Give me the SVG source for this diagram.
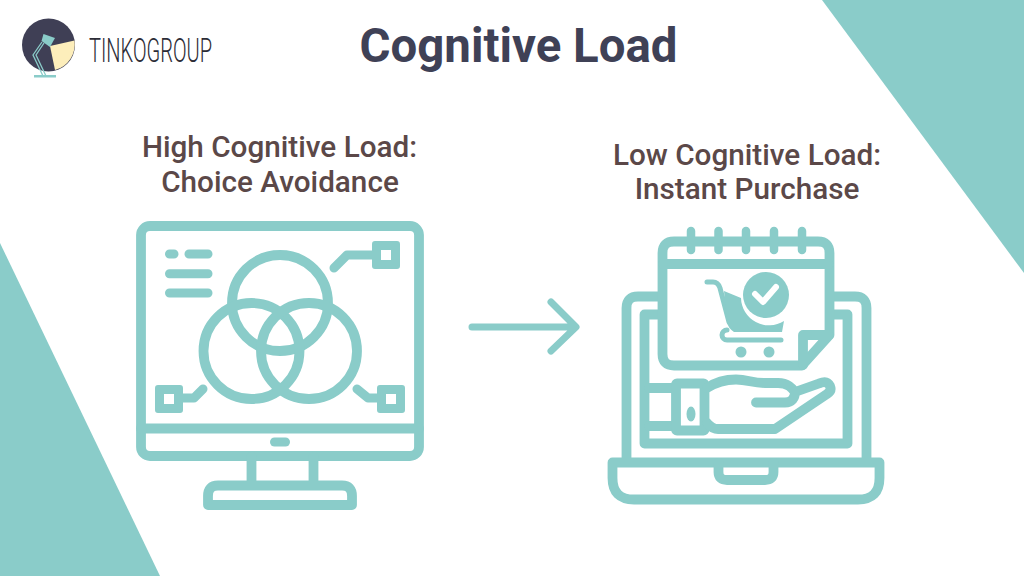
<svg xmlns="http://www.w3.org/2000/svg" width="1024" height="576" viewBox="0 0 1024 576">
<style>
.t{fill:#8accc9}
.s{fill:none;stroke:#8accc9;stroke-width:9.800;stroke-linecap:round;stroke-linejoin:round}
.w{fill:#fff}
.h{font-family:Roboto,"Liberation Sans",sans-serif;font-weight:500;font-size:29.700px;fill:#5b4848;text-anchor:middle}
</style>
<rect width="1024" height="576" fill="#fff"/>
<polygon class="t" points="822,0 1024,0 1024,273"/>
<polygon class="t" points="0,243 160,576 0,576"/>
<g id="logo">
<circle cx="48.500" cy="45" r="26.500" fill="#3f3f55"/>
<path d="M50,46 L74.500,40.500 A26.500,26.500 0 0 1 55,70 Z" fill="#fdeebb"/>
<polygon points="43.500,34 55,38 50,47 41.500,41" fill="#8accc9"/>
<path d="M42,42 L33,55 L43,76 M44,43 L36,55 L46,76" fill="none" stroke="#8accc9" stroke-width="1.300"/>
<rect x="34" y="75" width="22" height="2.500" fill="#8accc9"/>
<text x="89" y="62" font-family="Roboto,'Liberation Sans',sans-serif" font-weight="300" font-size="34" fill="#2c2c36" textLength="123" lengthAdjust="spacingAndGlyphs">TINKOGROUP</text>
</g>
<text id="title" x="518.500" y="62" font-family="Roboto,'Liberation Sans',sans-serif" font-weight="700" font-size="47.400" fill="#3f4156" text-anchor="middle">Cognitive Load</text>
<g id="high-label">
<text class="h" x="279.500" y="157">High Cognitive Load:</text>
<text class="h" x="280" y="192">Choice Avoidance</text>
</g>
<g id="low-label">
<text class="h" x="747" y="165">Low Cognitive Load:</text>
<text class="h" x="747" y="199">Instant Purchase</text>
</g>
<g id="monitor">
<rect class="s" x="141" y="226" width="278" height="230" rx="9"/>
<path class="s" d="M141,428.500H419M251.500,457V481M313.500,457V481"/>
<path class="s" d="M208,505V496Q208,485.500 218,485.500H342Q352,485.500 352,496V505Z"/>
<rect class="t" x="270" y="437.500" width="20" height="9" rx="4.500"/>
<path class="s" style="stroke-width:9" d="M169.500,254H174M189,254H208M169.500,273.700H208M169.500,293H208"/>
<circle class="s" cx="280" cy="303" r="48"/>
<circle class="s" cx="251.500" cy="351" r="48"/>
<circle class="s" cx="309" cy="351" r="48"/>
<path class="s" style="stroke-width:9" d="M334,268L347,255H376M203,389L194,398H179M357,389L368,398H381"/>
<path class="t" fill-rule="evenodd" d="M375,241H397a3,3 0 0 1 3,3V266a3,3 0 0 1 -3,3H375a3,3 0 0 1 -3,-3V244a3,3 0 0 1 3,-3ZM381,250V260H391V250Z"/>
<path class="t" fill-rule="evenodd" d="M158,385H180a3,3 0 0 1 3,3V410a3,3 0 0 1 -3,3H158a3,3 0 0 1 -3,-3V388a3,3 0 0 1 3,-3ZM164,394V404H174V394Z"/>
<path class="t" fill-rule="evenodd" d="M380,385H402a3,3 0 0 1 3,3V410a3,3 0 0 1 -3,3H380a3,3 0 0 1 -3,-3V388a3,3 0 0 1 3,-3ZM386,394V404H396V394Z"/>
</g>
<g id="connectors">
<path d="M472,327H575M551,302L576,327L551,351" fill="none" stroke="#8accc9" stroke-width="7" stroke-linecap="round" stroke-linejoin="round"/>
</g>
<g id="laptop">
<path class="s" d="M658,296.500H638Q626.500,296.500 626.500,308V458M834,296.500H855Q866.500,296.500 866.500,308V458"/>
<path class="s" d="M658,314.500H644.500V443.500H847.500V314.500H834"/>
<path class="s" d="M612.500,462.500H879.500V478Q879.500,499.500 858,499.500H634Q612.500,499.500 612.500,478Z"/>
<path class="s" d="M718.500,463V472Q718.500,480 727,480H765Q773.500,480 773.500,472V463"/>
<path class="s" d="M662.500,352V253Q662.500,241.500 674,241.500H818Q829.500,241.500 829.500,253V335L802,365.500H674Q662.500,365.500 662.500,354Z"/>
<path class="s" d="M663,264H829M829,335H803V365"/>
<path class="s" style="stroke-width:8.500" d="M691,231V250M718.500,231V250M746,231V250M774,231V250M802,231V250"/>
<path class="s" d="M649,388H672M649,426H672"/>
<rect class="s" x="676" y="383.500" width="28.500" height="47" rx="1"/>
<ellipse class="t" cx="691" cy="414" rx="4.500" ry="7.500"/>
<path class="s" d="M707,388C716,382 726,379.500 736,379.500C748,379.500 752,383 765,383H778C788,383 792,388 795,392L819,383.500Q827,380 830,386Q832,391 827,394L775,429H718C712,429 709,425 707,423M756,402.500H785C792,402.500 795,398 795,392"/>
<path d="M707,282H713Q718,282 720,288L729,322" fill="none" stroke="#8accc9" stroke-width="5" stroke-linecap="round"/>
<path class="t" d="M724,291L741,298A28,28 0 0 0 784,321L782,332H734Q728,328 727,322Z"/>
<circle class="t" cx="766" cy="295" r="23"/>
<path d="M755,294L763,302L776,287" fill="none" stroke="#fff" stroke-width="6" stroke-linecap="round" stroke-linejoin="round"/>
<path d="M781,340H727A5,5 0 0 1 727,330" fill="none" stroke="#8accc9" stroke-width="5" stroke-linecap="round"/>
<circle class="t" cx="741" cy="352" r="5.500"/>
<circle class="t" cx="769" cy="352" r="5.500"/>
</g>
</svg>
